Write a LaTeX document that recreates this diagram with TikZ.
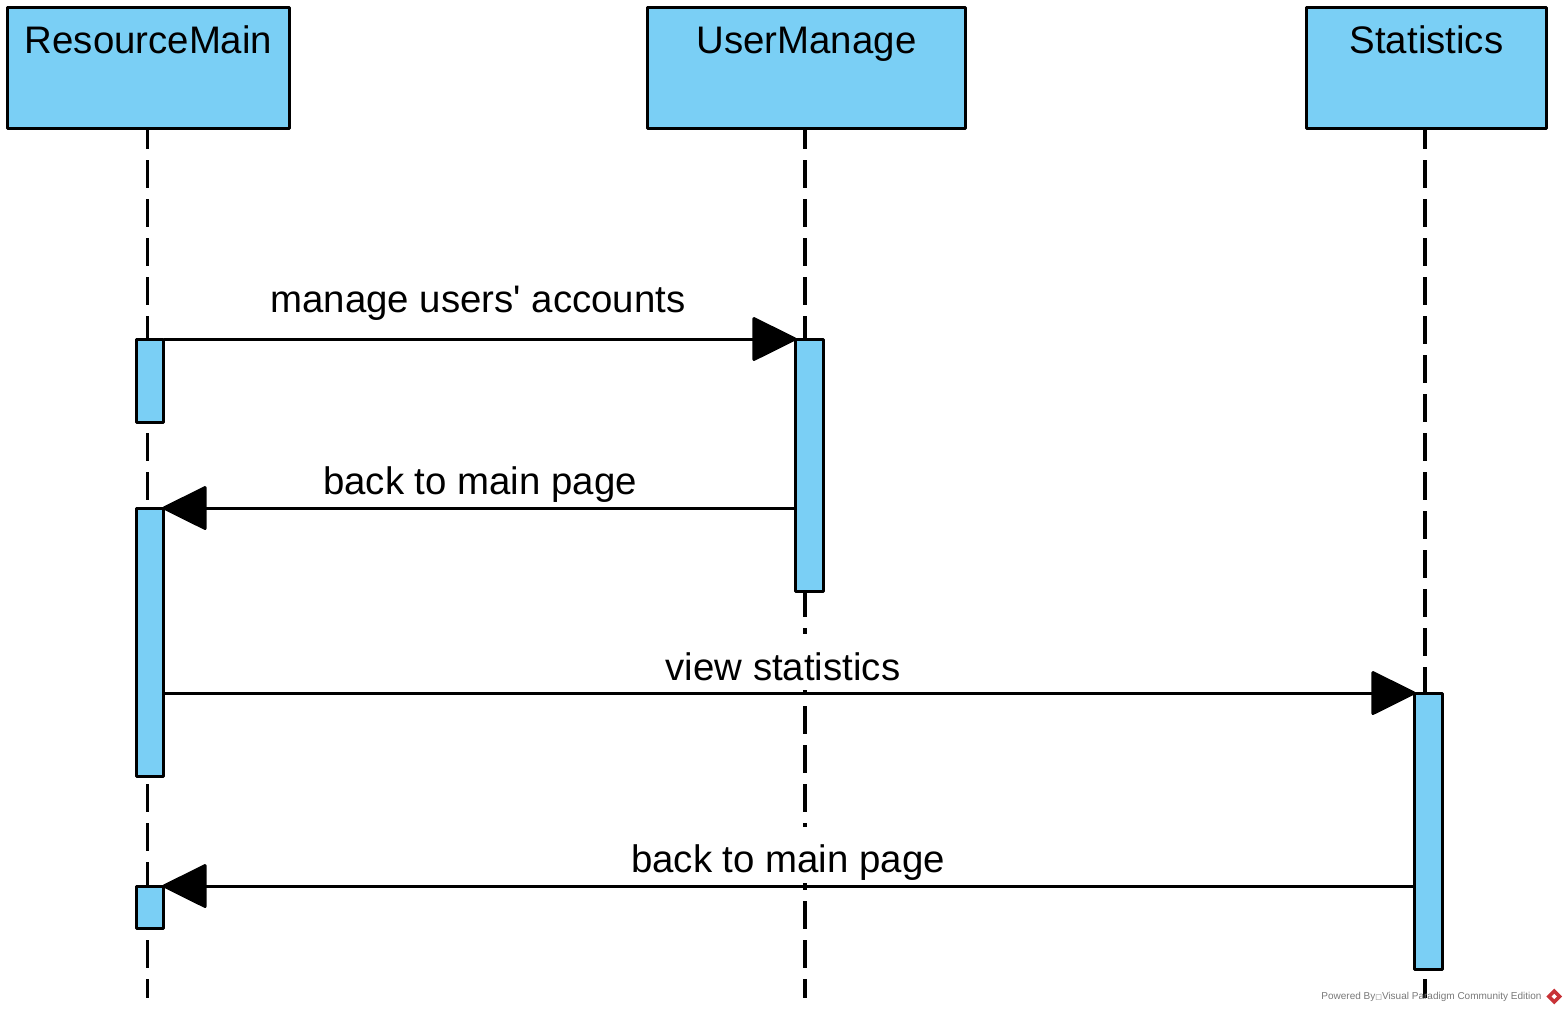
\documentclass[tikz,border=0pt]{standalone}
\usepackage{fontspec}
\setmainfont{Liberation Sans}
\newfontfamily\symfont{DejaVu Sans}
\usepackage{xcolor}
\usetikzlibrary{arrows.meta, positioning, shapes.geometric}
\definecolor{cBlue}{RGB}{122,207,245}
\definecolor{cMark}{RGB}{120,120,120}
\definecolor{cLogo}{RGB}{200,50,55}
\tikzset{
	head/.style    ={rectangle, draw=black, line width=0.06cm, line join=round, fill=cBlue, minimum height=2.42cm, inner sep=0pt, outer sep=0pt, text height=0.92cm, text depth=1.5cm, font=\fontsize{21.85pt}{24pt}\selectfont},
	bar/.style     ={rectangle, draw=black, line width=0.06cm, line join=round, fill=cBlue, minimum width=0.56cm, inner sep=0pt, outer sep=0pt, anchor=north},
	lifeline/.style={line width=0.062cm, dash pattern=on 0.56cm off 0.22cm, dash phase=0.14cm},
	msg/.style     ={-{Triangle[length=0.92cm, width=0.9cm, round]}, line width=0.06cm, shorten >=-0.03cm},
	lbl/.style     ={fill=white, inner xsep=0pt, inner ysep=0pt, anchor=base, text height=0.92cm, text depth=0.2cm, font=\fontsize{21.85pt}{24pt}\selectfont},
}
\begin{document}
\begin{tikzpicture}[x=0.02cm, y=-0.02cm]
	\useasboundingbox (0,0) rectangle (1565,1012);
	% lifelines
	\node[head, minimum width=5.66cm] (main) at (148.5,68) {ResourceMain};
	\node[head, minimum width=6.38cm] (user) at (806.5,68) {UserManage};
	\node[head, minimum width=4.82cm] (stat) at (1426.5,68) {Statistics};
	\coordinate (mainEnd) at (147.8,998);
	\coordinate (userEnd) at (805,998);
	\coordinate (statEnd) at (1425,998);
	\foreach \n in {main,user,stat} {\draw[lifeline] (\n.south -| \n End) -- (\n End);}
	% labels
	\node[lbl] (lblManage) at (478,312.5) {manage users\textquotesingle{} accounts};
	\node[lbl] (lblBackA) at (480,494.5) {back to main page};
	\node[lbl] (lblView) at (783,680) {view statistics};
	\node[lbl] (lblBackB) at (788,872.5) {back to main page};
	% activation bars
	\node[bar, minimum height=1.68cm] (mainA) at (150,339) {};
	\node[bar, minimum height=5.38cm] (mainB) at (150,508) {};
	\node[bar, minimum height=0.84cm] (mainC) at (150,886) {};
	\node[bar, minimum height=5.06cm] (userA) at (809,339) {};
	\node[bar, minimum height=5.54cm] (statA) at (1428,693) {};
	% messages
	\draw[msg] (mainA.north east) -- (userA.north west);
	\draw[msg] (userA.west |- mainB.north) -- (mainB.north east);
	\draw[msg] (mainB.east |- statA.north) -- (statA.north west);
	\draw[msg] (statA.west |- mainC.north) -- (mainC.north east);
	% watermark
	\node[anchor=base west, inner sep=0pt, text=cMark, font=\fontsize{5.7pt}{7pt}\selectfont] (mark) at (1321,999) {Powered By{\symfont\fontsize{4pt}{7pt}\selectfont □}Visual Paradigm Community Edition};
	\node[diamond, fill=cLogo, minimum size=0.32cm, inner sep=0pt, right=0.08cm of mark] (logo) {};
	\node[diamond, fill=white, minimum size=0.11cm, inner sep=0pt] (logoIn) at (logo) {};
\end{tikzpicture}
\end{document}
